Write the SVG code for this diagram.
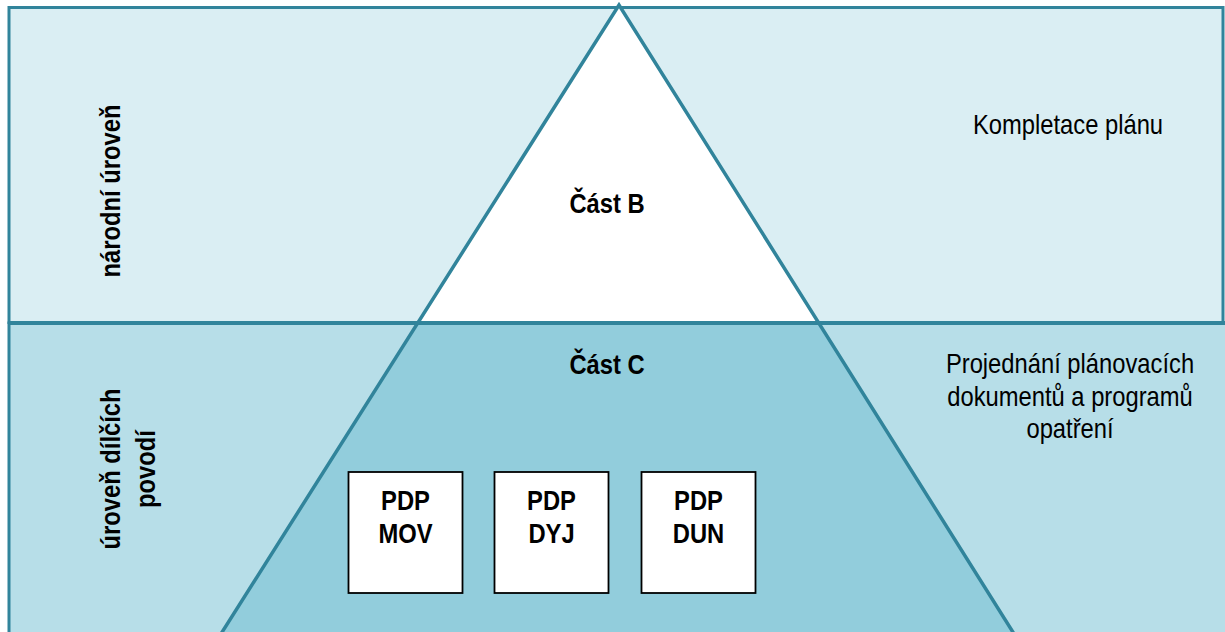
<svg xmlns="http://www.w3.org/2000/svg" width="1225" height="632" viewBox="0 0 1225 632">
  <style>
    .b { font-family: "Liberation Sans", Arial, sans-serif; font-weight: bold; font-size: 27px; fill: #000; }
    .r { font-family: "Liberation Sans", Arial, sans-serif; font-size: 27px; fill: #000; }
    .edge { stroke: #31849B; stroke-width: 3.5; fill: none; }
    .box { fill: #FFFFFF; stroke: #000; stroke-width: 1.8; }
  </style>
  <rect x="0" y="0" width="1225" height="632" fill="#FFFFFF"/>
  <g id="panel-national">
    <rect x="9" y="7.5" width="1214" height="315" fill="#DAEEF3" stroke="#31849B" stroke-width="3"/>
    <text class="b" transform="translate(120 191) rotate(-90) scale(0.88 1)" text-anchor="middle">národní úroveň</text>
    <text class="r" transform="translate(1068 134) scale(0.88 1)" text-anchor="middle">Kompletace plánu</text>
  </g>
  <g id="panel-subbasin">
    <rect x="9" y="323" width="1230" height="320" fill="#B7DEE8" stroke="#31849B" stroke-width="3"/>
    <text class="b" transform="translate(120 469) rotate(-90) scale(0.88 1)" text-anchor="middle">úroveň dílčích</text>
    <text class="b" transform="translate(155 469) rotate(-90) scale(0.88 1)" text-anchor="middle">povodí</text>
    <text class="r" transform="translate(1070 0) scale(0.88 1)" text-anchor="middle"><tspan x="0" y="373">Projednání plánovacích</tspan><tspan x="0" y="406">dokumentů a programů</tspan><tspan x="0" y="438">opatření</tspan></text>
  </g>
  <g id="part-b">
    <polygon points="619,5 419.5,323 818,323" fill="#FFFFFF"/>
    <text class="b" transform="translate(607 213) scale(0.88 1)" text-anchor="middle">Část B</text>
  </g>
  <g id="part-c">
    <polygon points="419.5,323 818,323 1016,637 219,637" fill="#92CDDC"/>
    <text class="b" transform="translate(607 374) scale(0.88 1)" text-anchor="middle">Část C</text>
  </g>
  <g id="connectors">
    <line x1="9" y1="323" x2="1225" y2="323" stroke="#31849B" stroke-width="4"/>
    <polyline class="edge" points="219,637 619,5 1016,637"/>
  </g>
  <g id="pdp-mov">
    <rect class="box" x="348.5" y="472" width="114" height="121"/>
    <text class="b" transform="translate(405.5 0) scale(0.88 1)" text-anchor="middle"><tspan x="0" y="510">PDP</tspan><tspan x="0" y="543">MOV</tspan></text>
  </g>
  <g id="pdp-dyj">
    <rect class="box" x="494.5" y="472" width="114" height="121"/>
    <text class="b" transform="translate(551.5 0) scale(0.88 1)" text-anchor="middle"><tspan x="0" y="510">PDP</tspan><tspan x="0" y="543">DYJ</tspan></text>
  </g>
  <g id="pdp-dun">
    <rect class="box" x="641.5" y="472" width="114" height="121"/>
    <text class="b" transform="translate(698.5 0) scale(0.88 1)" text-anchor="middle"><tspan x="0" y="510">PDP</tspan><tspan x="0" y="543">DUN</tspan></text>
  </g>
</svg>
